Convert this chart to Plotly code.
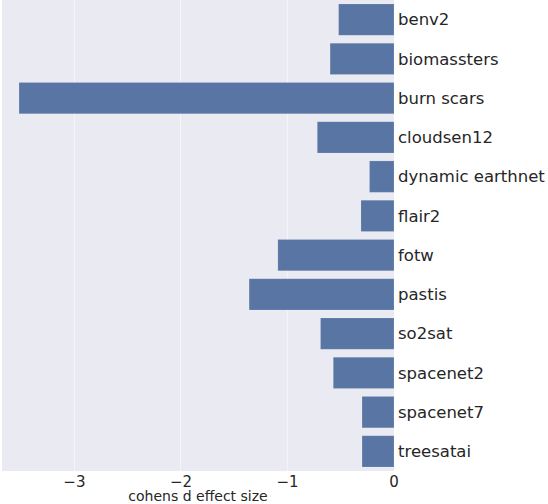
import plotly.graph_objects as go

datasets = ['benv2', 'biomassters', 'burn scars', 'cloudsen12', 'dynamic earthnet',
            'flair2', 'fotw', 'pastis', 'so2sat', 'spacenet2', 'spacenet7', 'treesatai']
effect_sizes = [-0.52, -0.60, -3.52, -0.72, -0.23, -0.31, -1.09, -1.36, -0.69, -0.57, -0.30, -0.30]
x_ticks = [-3, -2, -1, 0]
x_tick_labels = ['−3', '−2', '−1', '0']

fig = go.Figure(data=[
    go.Bar(
        x=effect_sizes,
        y=datasets,
        orientation='h',
        width=0.8,
        marker=dict(color='#5875A4', line=dict(color='rgba(255,255,255,0.3)', width=0.5)),
    )
])

fig.update_layout(
    width=548,
    height=504,
    margin=dict(l=2, r=154, t=0, b=33),
    paper_bgcolor='white',
    plot_bgcolor='#EAEAF2',
    font=dict(family='DejaVu Sans', color='#262626'),
    showlegend=False,
    bargap=0.2,
)
fig.update_xaxes(
    range=[-3.68, 0],
    tickvals=x_ticks,
    ticktext=x_tick_labels,
    showgrid=True,
    gridcolor='rgba(255,255,255,0.5)',
    gridwidth=1,
    zeroline=False,
    showline=False,
    ticks='',
    ticklabelstandoff=0,
    tickfont=dict(size=15),
    title=dict(text='cohens d effect size', font=dict(size=14), standoff=0),
)
fig.update_yaxes(
    side='right',
    autorange='reversed',
    showgrid=False,
    zeroline=False,
    ticks='',
    ticklabelstandoff=3,
    tickfont=dict(size=16.5),
)

# no page margin round the plot
fig.write_html("out.html", config={'displayModeBar': False},
               post_script="document.body.style.margin='0';")
